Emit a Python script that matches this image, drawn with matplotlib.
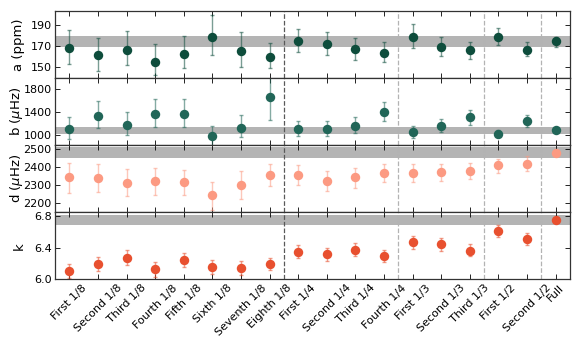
import matplotlib
matplotlib.use("Agg")
import matplotlib.pyplot as plt
import numpy as np

labels = ["First 1/8", "Second 1/8", "Third 1/8", "Fourth 1/8", "Fifth 1/8", "Sixth 1/8",
          "Seventh 1/8", "Eighth 1/8", "First 1/4", "Second 1/4", "Third 1/4", "Fourth 1/4",
          "First 1/3", "Second 1/3", "Third 1/3", "First 1/2", "Second 1/2", "Full"]

a_val = [169, 161.7, 167, 155, 163, 179, 166, 160.4, 174.8, 172.6, 168, 164.2, 178.6, 169.4, 166.5, 179.3, 166.8, 174.8]
a_hi = [186, 178, 185, 172.5, 180, 199.8, 183.8, 173, 186.4, 184.2, 178.5, 174.4, 191.6, 178.6, 174.6, 187.5, 174.4, 178.6]
a_lo = [153, 147, 152, 142.5, 149, 162, 150.4, 149.4, 164.6, 162, 157.4, 155, 169, 160.8, 158, 171.3, 160.8, 169.7]

b_val = [1110, 1338, 1187, 1367, 1367, 988, 1135, 1665, 1110, 1110, 1163, 1408, 1052, 1170, 1310, 1030, 1250, 1088]
b_hi = [1315, 1600, 1408, 1635, 1635, 1170, 1345, 2050, 1240, 1257, 1315, 1583, 1163, 1292, 1432, 1088, 1355, 1113]
b_lo = [942, 1135, 1000, 1145, 1145, 810, 965, 1262, 995, 995, 1040, 1257, 953, 1065, 1187, 965, 1152, 1063]

d_val = [2344, 2342, 2315, 2326, 2317, 2244, 2302, 2357, 2355, 2324, 2344, 2370, 2370, 2374, 2380, 2411, 2420, 2482]
d_hi = [2424, 2417, 2389, 2398, 2387, 2320, 2382, 2417, 2411, 2380, 2396, 2417, 2417, 2420, 2424, 2448, 2461, 2495]
d_lo = [2259, 2263, 2239, 2246, 2244, 2161, 2224, 2298, 2300, 2268, 2287, 2320, 2320, 2324, 2335, 2370, 2380, 2469]

k_val = [6.104, 6.197, 6.273, 6.125, 6.243, 6.151, 6.142, 6.197, 6.344, 6.315, 6.375, 6.294, 6.467, 6.446, 6.362, 6.606, 6.514, 6.746]
k_hi = [6.197, 6.281, 6.366, 6.214, 6.337, 6.248, 6.235, 6.273, 6.433, 6.395, 6.458, 6.375, 6.547, 6.527, 6.442, 6.682, 6.59, 6.77]
k_lo = [6.02, 6.109, 6.185, 6.028, 6.154, 6.071, 6.053, 6.113, 6.264, 6.235, 6.298, 6.214, 6.382, 6.362, 6.29, 6.534, 6.438, 6.722]

bands = [(169.7, 180.3), (1030, 1145), (2454, 2514), (6.692, 6.809)]
ylabels = ["a (ppm)", r"b ($\mu$Hz)", r"d ($\mu$Hz)", "k"]
yticks = [[150, 170, 190], [1000, 1400, 1800], [2200, 2300, 2400, 2500], [6.0, 6.4, 6.8]]
ytlabels = [["150", "170", "190"], ["1000", "1400", "1800"], ["2200", "2300", "2400", "2500"], ["6.0", "6.4", "6.8"]]
ylims = [(140, 204), (830, 2000), (2150, 2525), (6.0, 6.85)]
colors = ["#0e4d3c", "#216658", "#fc9a82", "#e8502f"]
group_edges = [7.5, 11.5, 14.5, 16.5]

plt.rcParams["font.size"] = 8
fig, axes = plt.subplots(4, 1, sharex=True, figsize=(5.81, 3.49), dpi=100)
fig.subplots_adjust(left=0.095, right=0.981, top=0.969, bottom=0.2, hspace=0)

x = np.arange(len(labels))
series = [(a_val, a_hi, a_lo), (b_val, b_hi, b_lo), (d_val, d_hi, d_lo), (k_val, k_hi, k_lo)]
for i, ax in enumerate(axes):
    v, hi, lo = (np.array(s) for s in series[i])
    ax.axhspan(bands[i][0], bands[i][1], color="#b4b4b4", lw=0, zorder=0)
    for j, e in enumerate(group_edges):
        ax.axvline(e, color="0.35" if j == 0 else "0.7", ls="--", lw=0.9, zorder=1)
    ax.errorbar(x, v, yerr=[v - lo, hi - v], fmt="none", ecolor=colors[i], alpha=0.55,
                elinewidth=1.0, capsize=1.5, capthick=1.0, zorder=2)
    ax.plot(x, v, "o", color=colors[i], ms=6.8, mec="none", zorder=3)
    ax.set_ylim(*ylims[i])
    ax.set_yticks(yticks[i])
    ax.set_yticklabels(ytlabels[i])
    ax.set_ylabel(ylabels[i], fontsize=9.5)
    ax.yaxis.set_label_coords(-0.058, 0.5)
    ax.tick_params(direction="in", top=True, right=True, length=3.5, width=0.6, labelsize=8, pad=2.5)
    for s in ax.spines.values():
        s.set_linewidth(0.9)
        s.set_color("0.2")

axes[-1].set_xlim(-0.5, 17.5)
axes[-1].set_xticks(x)
axes[-1].set_xticklabels(labels, rotation=45, fontsize=8)

fig.savefig("out.png", dpi=100)
